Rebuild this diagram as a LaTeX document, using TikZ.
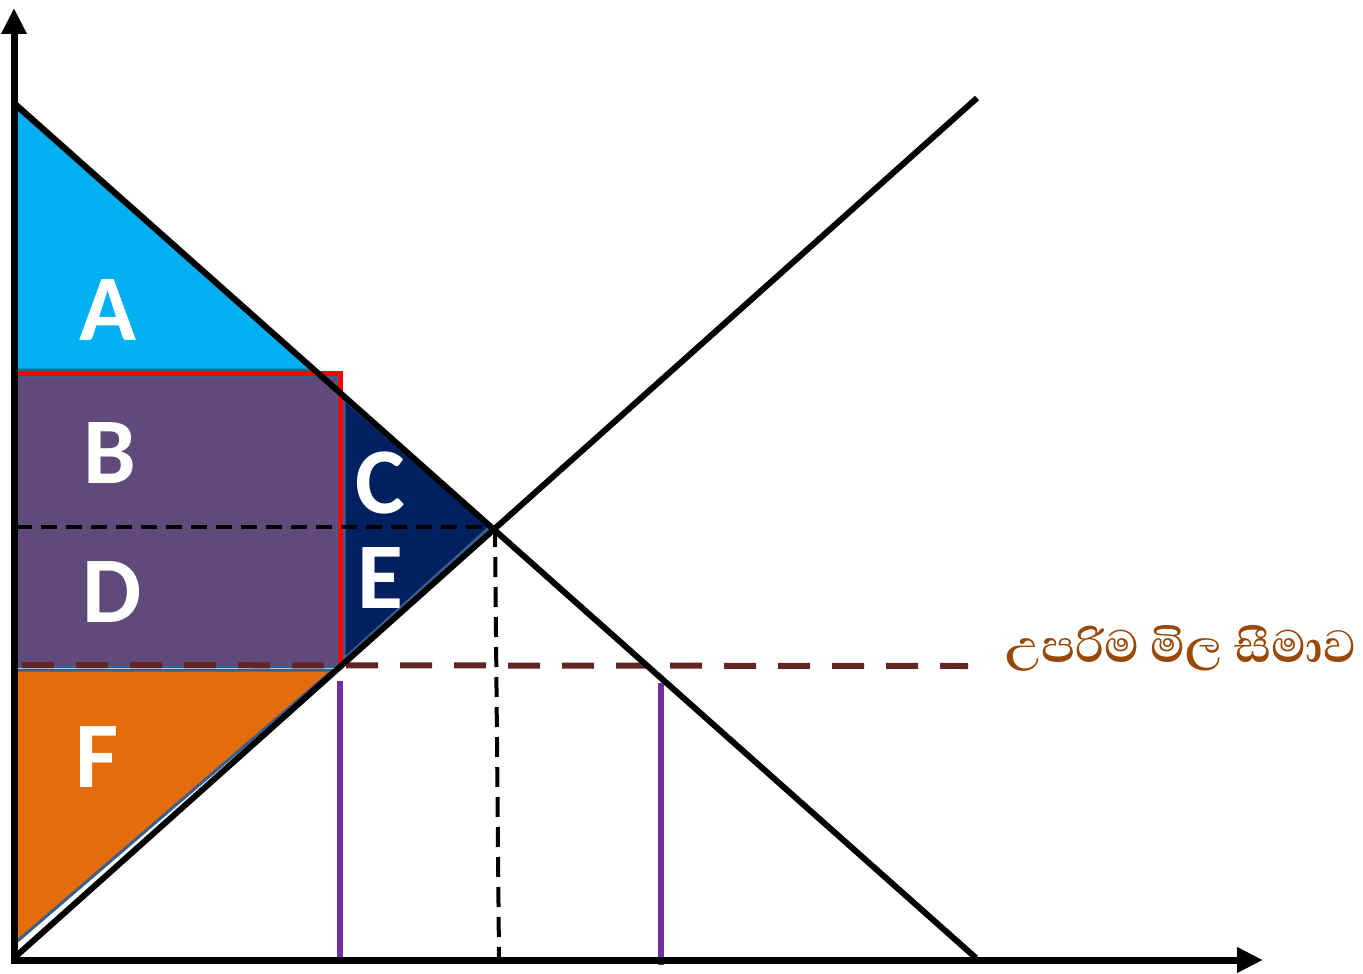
\documentclass[tikz,border=0pt]{standalone}
\usepackage{fontspec}
\setmainfont{Carlito}
\newfontfamily\sinfont[Script=Sinhala]{Abhaya Libre}
\usetikzlibrary{arrows.meta}
\definecolor{cA}{HTML}{00B0F0}
\definecolor{cB}{HTML}{604A7B}
\definecolor{cC}{HTML}{002060}
\definecolor{cF}{HTML}{E46C0A}
\definecolor{cEdge}{HTML}{3B5F8C}
\definecolor{cBrown}{HTML}{632523}
\definecolor{cPurple}{HTML}{7030A0}
\definecolor{cText}{HTML}{984807}
\tikzset{
  area/.style={draw=cEdge,line width=1.5pt,line join=round},
  curve/.style={draw=black,line width=3pt},
  axis/.style={draw=black,line width=3.5pt,-{Triangle[length=13pt,width=12pt]}},
  lbl/.style={text=white,font=\fontsize{47}{50}\selectfont\bfseries,inner sep=0pt},
  qline/.style={draw=cPurple,line width=3pt},
  eqdash/.style={draw=black,line width=2pt,dash pattern=on 8pt off 4.5pt},
  ceil/.style={draw=cBrown,line width=3pt,dash pattern=on 16pt off 11pt}
}
\begin{document}
\begin{tikzpicture}[x=0.5pt,y=-0.5pt]
\useasboundingbox (0,0) rectangle (1363,973);
% key points
\coordinate (O) at (14,960);
\coordinate (Ytop) at (14,8);
\coordinate (Xend) at (1263,960);
\coordinate (D1) at (14,103);
\coordinate (D2) at (976,958);
\coordinate (S1) at (14,958);
\coordinate (S2) at (977,98);
\coordinate (Eq) at (495,527);
\coordinate (EqL) at (16,527);
\coordinate (EqB) at (499,958);
% areas
\path[area,fill=cA] (14,106) -- (14,370) -- (312,370) -- cycle;
\path[area,fill=cB] (14,376) rectangle (337,666);
\path[area,fill=cC] (344,399) -- (490,527) -- (344,659) -- cycle;
\path[area,fill=cF] (14,670) -- (333,670) -- (14,944) -- cycle;
% ceiling dashed
\coordinate (C1) at (22,665);
\coordinate (C2) at (968,666);
\draw[ceil] (C1) -- (C2);
% red outline
\coordinate (R1) at (14,373);
\coordinate (R2) at (340,373);
\coordinate (R3) at (340,665);
\draw[red,line width=2.5pt] (R1) -- (R2) -- (R3);
% equilibrium dashed
\draw[eqdash] (EqL) -- (Eq);
\draw[eqdash,dash pattern=on 10pt off 5pt] (Eq) -- (EqB);
% purple quantity lines
\coordinate (P1a) at (340,681);
\coordinate (P1b) at (340,962);
\coordinate (P2a) at (661,683);
\coordinate (P2b) at (661,965);
\draw[qline] (P1a) -- (P1b);
\draw[qline] (P2a) -- (P2b);
% curves
\draw[curve] (D1) -- (D2);
\draw[curve] (S1) -- (S2);
% axes
\draw[axis] (14,963) -- (Ytop);
\draw[axis] (11,960) -- (Xend);
% labels
\node[lbl] (A) at (108,310) {A};
\node[lbl] (B) at (110,453) {B};
\node[lbl] (C) at (380,483) {C};
\node[lbl] (D) at (112,592) {D};
\node[lbl] (E) at (380,578) {E};
\node[lbl] (F) at (97,757) {F};
\node[text=cText,font=\sinfont\bfseries\fontsize{29}{32}\selectfont,inner sep=0pt] (T) at (1181,648) {උපරිම මිල සීමාව};
\end{tikzpicture}
\end{document}
